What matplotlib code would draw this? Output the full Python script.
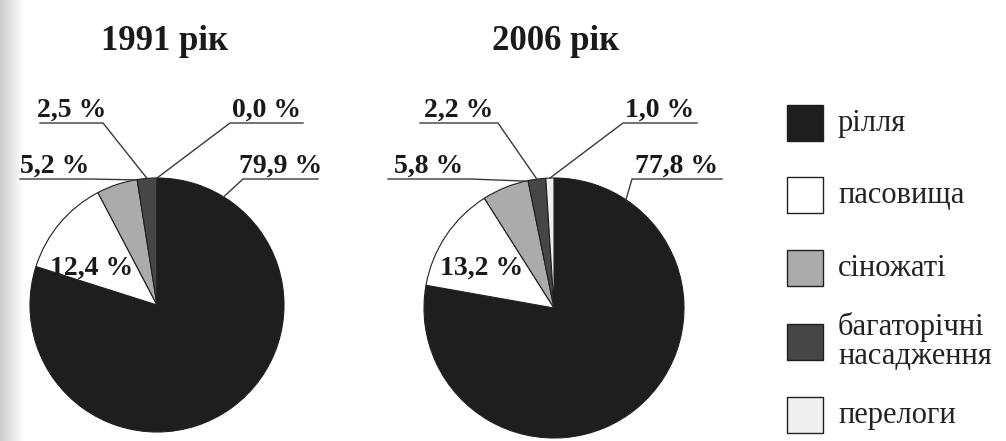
import numpy as np
import matplotlib.pyplot as plt
from matplotlib.patches import Rectangle

# land use structure, percent of agricultural land
categories = ["рілля", "пасовища", "сіножаті", "багаторічні\nнасадження", "перелоги"]
years = ["1991 рік", "2006 рік"]
shares_1991 = [79.9, 12.4, 5.2, 2.5, 0.0]
shares_2006 = [77.8, 13.2, 5.8, 2.2, 1.0]

colors = ["#1e1e1e", "#ffffff", "#ababab", "#464646", "#efefef"]

W, H = 1006, 441
SERIF = "Liberation Serif"


def fy(y):
    # top-down pixel row -> axes y
    return H - y


def pct(v):
    return f"{v:.1f} %".replace(".", ",")


# label layout per slice: ("out", elbow_x, elbow_y, line_end_x, pos_in_slice) or ("in", x, y)
layout_1991 = [("out", 243, 179, 318, 0.11), ("in", 92, 268), ("out", 90, 179, 20, 0.95),
               ("out", 103, 123, 40, 0.5), ("out", 230, 123, 303, 0.5)]
layout_2006 = [("out", 632, 179, 722, 0.12), ("in", 482, 268), ("out", 470, 179, 388, 0.95),
               ("out", 498, 123, 420, 0.5), ("out", 623, 123, 697, 0.5)]

pies = [
    (shares_1991, layout_1991, (157, 305), 127, (165, 42)),
    (shares_2006, layout_2006, (554, 308), 130, (556, 42)),
]

fig = plt.figure(figsize=(W / 100, H / 100), dpi=100)
ax = fig.add_axes([0, 0, 1, 1])

# grey scan strip along the left edge
strip = np.linspace(0.80, 1.0, 40).reshape(1, -1)
ax.imshow(strip, cmap="gray", vmin=0, vmax=1, extent=(0, 24, 0, H), aspect="auto", zorder=0)

for (values, layout, (cx, cy), r, (tx, ty)), title in zip(pies, years):
    wedges, _ = ax.pie(values, colors=colors, startangle=90, counterclock=False,
                       center=(cx, fy(cy)), radius=r, frame=True,
                       wedgeprops=dict(edgecolor="#202020", linewidth=0.8))
    ax.text(tx, fy(ty), title, ha="center", va="center", family=SERIF,
            fontsize=25, fontweight="bold", color="#1a1a1a")
    total = sum(values)
    before = 0.0
    for w, v, lay in zip(wedges, values, layout):
        start = before
        before += v
        if lay[0] == "in":
            ax.text(lay[1], fy(lay[2]), pct(v), ha="center", va="center", family=SERIF,
                    fontsize=20, fontweight="bold", color="#1a1a1a", zorder=5)
            continue
        _, ex, ey, endx, frac = lay
        # clockwise from 12 o'clock
        ang = np.deg2rad(90 - 360 * (start + frac * v) / total)
        px = w.center[0] + w.r * np.cos(ang)
        py = w.center[1] + w.r * np.sin(ang)
        ax.plot([px, ex, endx], [py, fy(ey), fy(ey)], color="#3a3a3a", lw=1.0, zorder=4)
        ax.text((ex + endx) / 2, fy(ey) + 6, pct(v), ha="center", va="baseline", family=SERIF,
                fontsize=20, fontweight="bold", color="#1a1a1a")

# legend drawn as boxes with captions
legend_rows = [123, 195, 268, 342, 415]
box = 36
for name, c, yc in zip(categories, colors, legend_rows):
    ax.add_patch(Rectangle((787, fy(yc) - box / 2), box, box, facecolor=c,
                           edgecolor="#202020", linewidth=1.0))
    ax.text(838, fy(yc), name, ha="left", va="center", family=SERIF, fontsize=22,
            color="#222222", linespacing=1.0)

ax.set_xlim(0, W)
ax.set_ylim(0, H)
ax.set_aspect("equal")
ax.axis("off")

fig.savefig("out.png", dpi=100)
